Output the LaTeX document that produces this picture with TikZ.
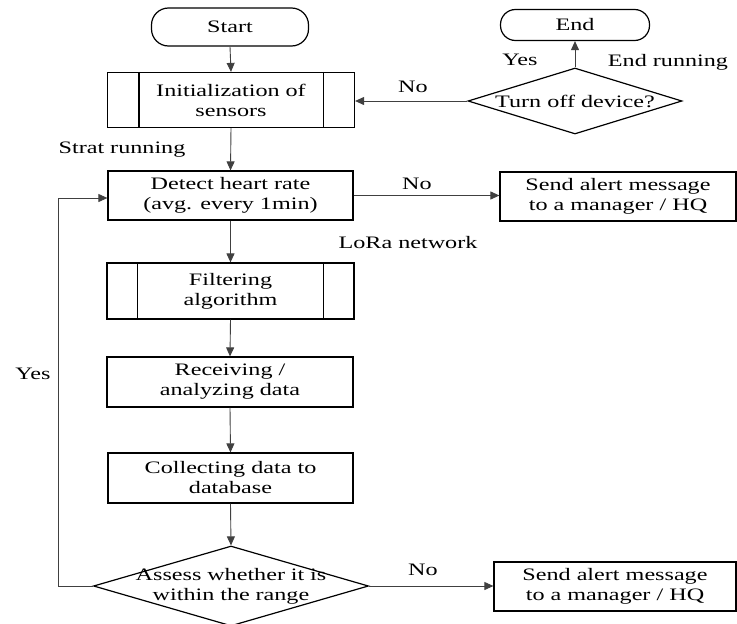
\documentclass[tikz,border=0pt]{standalone}
\usepackage{fontspec}
\setmainfont{Liberation Serif}[FakeStretch=1.38]
\usetikzlibrary{shapes.geometric,arrows.meta}
\tikzset{
  txt/.style={font=\fontsize{17.5}{20}\selectfont, align=center, inner sep=0pt},
  box/.style={txt, draw, line width=1.2pt, minimum width=#1, minimum height=49pt},
  box/.default=245pt,
  sub/.style={txt, draw, line width=1.2pt, minimum width=247pt, minimum height=55pt},
  term/.style={txt, draw, line width=1.2pt, rounded corners=17pt},
  dia/.style={draw, diamond, line width=1.2pt, inner sep=0pt},
  conn/.style={draw=black!75, line width=0.9pt, -{Triangle[length=9pt,width=8pt]}},
  lbl/.style={txt}
}
\begin{document}
\begin{tikzpicture}[x=1pt,y=-1pt]
\useasboundingbox (0,0) rectangle (737,624);
% nodes
\node[term, minimum width=157pt, minimum height=38pt] (start) at (230,27) {Start};
\node[term, minimum width=149pt, minimum height=31pt, rounded corners=15pt] (end) at (575,25) {End};
\node[sub] (init) at (231,100) {Initialization of\\sensors};
\draw[line width=1.2pt] ([xshift=32pt]init.north west) -- ([xshift=32pt]init.south west);
\draw[line width=1.2pt] ([xshift=-32pt]init.north east) -- ([xshift=-32pt]init.south east);
\node[dia, minimum width=214pt, minimum height=66pt,
      label={[lbl]center:Turn off device?}] (off) at (575,101) {};
\node[box] (detect) at (230.5,195.5) {Detect heart rate\\(avg. every 1min)};
\node[box=236pt] (alert1) at (618,196.5) {Send alert message\\to a manager / HQ};
\node[sub, minimum height=56pt] (filter) at (230.5,291) {Filtering\\algorithm};
\draw[line width=1.2pt] ([xshift=31pt]filter.north west) -- ([xshift=31pt]filter.south west);
\draw[line width=1.2pt] ([xshift=-31pt]filter.north east) -- ([xshift=-31pt]filter.south east);
\node[box=246pt, minimum height=50pt] (recv) at (230,382) {Receiving /\\analyzing data};
\node[box, minimum height=50pt] (coll) at (230.5,478) {Collecting data to\\database};
\node[dia, minimum width=275pt, minimum height=80pt,
      label={[lbl, text width=200pt]center:Assess whether it is\\within the range}] (assess) at (231,586) {};
\node[box=242pt] (alert2) at (615,586.5) {Send alert message\\to a manager / HQ};
\coordinate (loopb) at (58,586);
\coordinate (loopt) at (58,198);
% labels
\node[lbl] (l1) at (122,150) {Strat running};
\node[lbl] (l2) at (408,243) {LoRa network};
\node[lbl] (l3) at (417,184) {No};
\node[lbl] (l4) at (413,87) {No};
\node[lbl] (l5) at (520,60) {Yes};
\node[lbl] (l6) at (668,62) {End running};
\node[lbl] (l7) at (33,374) {Yes};
\node[lbl] (l8) at (423,570) {No};
% connectors
\draw[conn] (start.south) -- (init.north);
\draw[conn] (init.south) -- (detect.north);
\draw[conn] (detect.east) -- (detect.east -| alert1.west);
\draw[conn] (detect.south) -- (filter.north);
\draw[conn] (filter.south) -- (recv.north);
\draw[conn] (recv.south) -- (coll.north);
\draw[conn] (coll.south) -- (assess.north);
\draw[conn] (assess.east) -- (assess.east -| alert2.west);
\draw[conn] (assess.west) -- (loopb) -- (loopt) -- (loopt -| detect.west);
\draw[conn] (off.north) -- (end.south);
\draw[conn] (off.west) -- (off.west -| init.east);
\end{tikzpicture}
\end{document}
